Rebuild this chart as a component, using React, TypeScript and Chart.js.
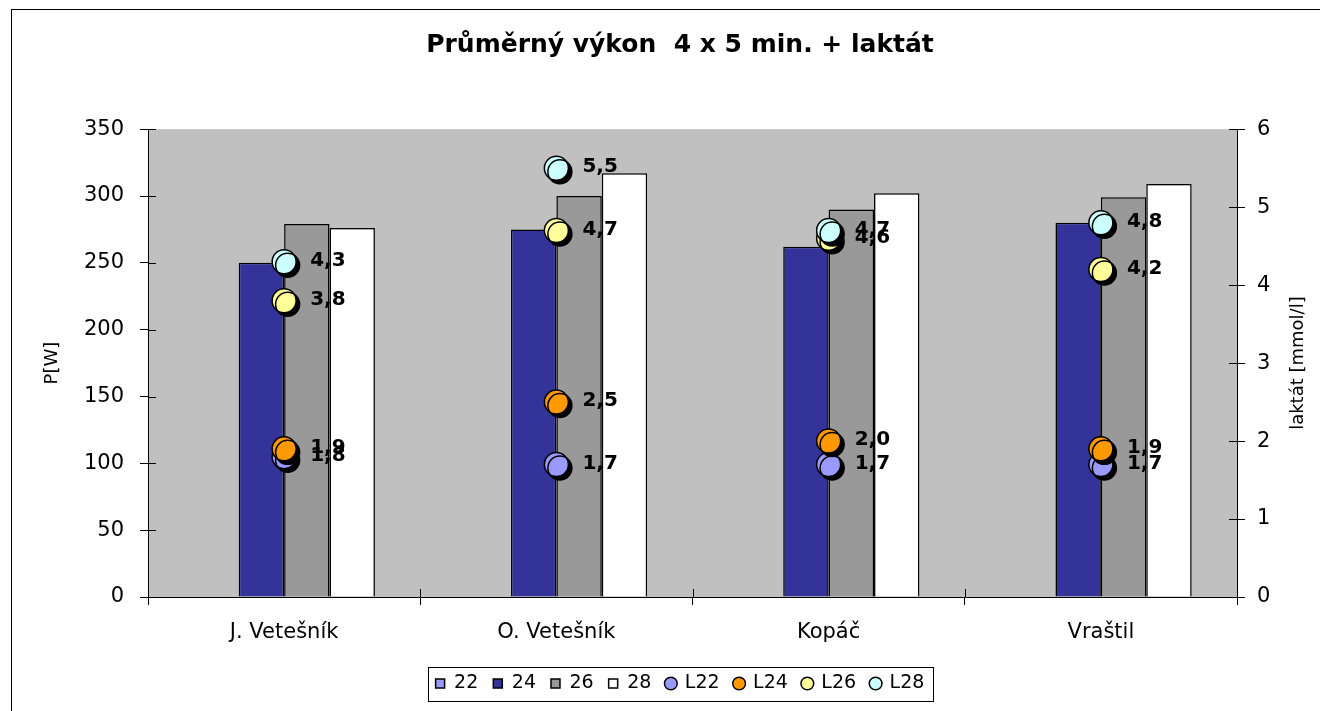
import React, { useEffect, useRef } from 'react';
import { Chart, registerables } from 'chart.js';

Chart.register(...registerables);

const FONT = "'DejaVu Sans', sans-serif";

const titleText = 'Průměrný výkon  4 x 5 min. + laktát';
const categories = ['J. Vetešník', 'O. Vetešník', 'Kopáč', 'Vraštil'];

const power22: (number | null)[] = [null, null, null, null];
const power24 = [250, 275, 262, 280];
const power26 = [279, 300, 290, 299];
const power28 = [276, 317, 302, 309];

const lactate22 = [1.8, 1.7, 1.7, 1.7];
const lactate24 = [1.9, 2.5, 2.0, 1.9];
const lactate26 = [3.8, 4.7, 4.6, 4.2];
const lactate28 = [4.3, 5.5, 4.7, 4.8];

const powerAxis = { min: 0, max: 350, step: 50, title: 'P[W]' };
const lactateAxis = { min: 0, max: 6, step: 1, title: 'laktát [mmol/l]' };

const plotBg = {
  id: 'plotBg',
  beforeDraw(chart: any) {
    const { ctx, chartArea: a } = chart;
    ctx.save();
    ctx.fillStyle = '#C0C0C0';
    ctx.fillRect(a.left, a.top, a.right - a.left, a.bottom - a.top);
    ctx.restore();
  },
};

const crossTicks = {
  id: 'crossTicks',
  beforeDatasetsDraw(chart: any) {
    const { ctx, chartArea: a, scales } = chart;
    ctx.save();
    ctx.strokeStyle = '#000';
    ctx.lineWidth = 1;
    ctx.beginPath();
    const y = scales.y;
    y.ticks.forEach((_t: any, i: number) => {
      const py = Math.round(y.getPixelForTick(i)) + 0.5;
      ctx.moveTo(a.left, py);
      ctx.lineTo(a.left + 8, py);
    });
    const y2 = scales.y2;
    y2.ticks.forEach((_t: any, i: number) => {
      const py = Math.round(y2.getPixelForTick(i)) + 0.5;
      ctx.moveTo(a.right - 8, py);
      ctx.lineTo(a.right, py);
    });
    const x = scales.x;
    for (let i = 0; i <= categories.length; i++) {
      const px = Math.round(x.getPixelForValue(i - 0.5)) + 0.5;
      ctx.moveTo(px, a.bottom);
      ctx.lineTo(px, a.bottom - 8);
    }
    ctx.stroke();
    ctx.restore();
  },
};

const pointShadow = {
  id: 'pointShadow',
  beforeDatasetDraw(chart: any, args: any) {
    if (chart.data.datasets[args.index].type !== 'line') return;
    const ctx = chart.ctx;
    ctx.save();
    ctx.shadowColor = '#000';
    ctx.shadowOffsetX = 3.5;
    ctx.shadowOffsetY = 3.5;
    ctx.shadowBlur = 0;
  },
  afterDatasetDraw(chart: any, args: any) {
    if (chart.data.datasets[args.index].type !== 'line') return;
    chart.ctx.restore();
  },
};

const valueLabels = {
  id: 'valueLabels',
  afterDatasetsDraw(chart: any) {
    const ctx = chart.ctx;
    ctx.save();
    ctx.font = `bold 20px ${FONT}`;
    ctx.fillStyle = '#000';
    ctx.textAlign = 'left';
    ctx.textBaseline = 'middle';
    chart.data.datasets.forEach((ds: any, i: number) => {
      if (ds.type !== 'line') return;
      const meta = chart.getDatasetMeta(i);
      meta.data.forEach((el: any, j: number) => {
        const v = ds.data[j];
        if (v == null) return;
        ctx.fillText(v.toFixed(1).replace('.', ','), el.x + 26, el.y - 1);
      });
    });
    ctx.restore();
  },
};

const axisTitles = {
  id: 'axisTitles',
  afterDraw(chart: any) {
    const { ctx, chartArea: a } = chart;
    const cy = (a.top + a.bottom) / 2;
    ctx.save();
    ctx.font = `18px ${FONT}`;
    ctx.fillStyle = '#000';
    ctx.textAlign = 'center';
    ctx.textBaseline = 'alphabetic';
    ctx.save();
    ctx.translate(45, cy);
    ctx.rotate(-Math.PI / 2);
    ctx.fillText(powerAxis.title, 0, 0);
    ctx.restore();
    ctx.save();
    ctx.translate(1291, cy);
    ctx.rotate(-Math.PI / 2);
    ctx.fillText(lactateAxis.title, 0, 0);
    ctx.restore();
    ctx.restore();
  },
};

const legendBorder = {
  id: 'legendBorder',
  afterDraw(chart: any) {
    const lg = chart.legend;
    if (!lg || !lg.legendHitBoxes || !lg.legendHitBoxes.length) return;
    const hb = lg.legendHitBoxes;
    const first = hb[0];
    const last = hb[hb.length - 1];
    const left = Math.round(first.left - 8);
    const right = Math.round(last.left + last.width + 9);
    const cy = first.top + first.height / 2;
    const top = Math.round(cy - 17);
    const ctx = chart.ctx;
    ctx.save();
    ctx.strokeStyle = '#000';
    ctx.lineWidth = 1;
    ctx.strokeRect(left + 0.5, top + 0.5, right - left, 34);
    ctx.restore();
  },
};

const barStyle = {
  type: 'bar' as const,
  yAxisID: 'y',
  borderColor: '#000',
  borderWidth: 1.5,
  barPercentage: 1.0,
  categoryPercentage: 0.667,
  pointStyle: 'rect',
  order: 10,
};

const pointStyle = (color: string) => ({
  type: 'line' as const,
  yAxisID: 'y2',
  showLine: false,
  pointRadius: 12,
  pointHoverRadius: 12,
  pointBorderWidth: 1.5,
  pointBorderColor: '#000',
  pointBackgroundColor: color,
  backgroundColor: color,
  borderColor: '#000',
  borderWidth: 1.5,
  pointStyle: 'circle',
});

export default function App() {
  const ref = useRef<HTMLCanvasElement | null>(null);

  useEffect(() => {
    if (!ref.current) return;
    Chart.defaults.font.family = FONT;
    const chart = new Chart(ref.current, {
      type: 'bar',
      data: {
        labels: categories,
        datasets: [
          { ...barStyle, label: '22', data: power22, backgroundColor: '#9999FF' },
          { ...barStyle, label: '24', data: power24, backgroundColor: '#333399' },
          { ...barStyle, label: '26', data: power26, backgroundColor: '#999999' },
          { ...barStyle, label: '28', data: power28, backgroundColor: '#FFFFFF' },
          { ...pointStyle('#9999FF'), label: 'L22', data: lactate22, order: 4 },
          { ...pointStyle('#FF9900'), label: 'L24', data: lactate24, order: 3 },
          { ...pointStyle('#FFFF99'), label: 'L26', data: lactate26, order: 2 },
          { ...pointStyle('#CCFFFF'), label: 'L28', data: lactate28, order: 1 },
        ] as any,
      },
      options: {
        animation: false,
        responsive: false,
        maintainAspectRatio: false,
        events: [],
        layout: { padding: { left: 29, right: 0, top: 0, bottom: 8 } },
        plugins: {
          title: {
            display: true,
            text: titleText,
            color: '#000',
            font: { family: FONT, size: 25, weight: 'bold' },
            padding: { top: 20, bottom: 69.2 },
          },
          legend: {
            position: 'bottom',
            labels: {
              usePointStyle: true,
              boxWidth: 9,
              boxHeight: 9,
              padding: 15,
              color: '#000',
              font: { family: FONT, size: 19 },
              sort: (a: any, b: any) => a.datasetIndex - b.datasetIndex,
            },
          },
          tooltip: { enabled: false },
        },
        scales: {
          x: {
            type: 'category',
            offset: true,
            grid: { offset: true, drawOnChartArea: false, drawTicks: true, tickLength: 8, color: '#000' },
            border: { display: true, color: '#000', width: 1 },
            ticks: { color: '#000', padding: 15, font: { family: FONT, size: 21 } },
            afterFit: (s: any) => { s.height = 62; },
          },
          y: {
            position: 'left',
            min: powerAxis.min,
            max: powerAxis.max,
            grid: { drawOnChartArea: false, drawTicks: true, tickLength: 8, color: '#000' },
            border: { display: true, color: '#000', width: 1 },
            ticks: { stepSize: powerAxis.step, color: '#000', padding: 16, font: { family: FONT, size: 21 } },
            afterFit: (s: any) => { s.width = 107; },
          },
          y2: {
            position: 'right',
            min: lactateAxis.min,
            max: lactateAxis.max,
            grid: { drawOnChartArea: false, drawTicks: true, tickLength: 8, color: '#000' },
            border: { display: true, color: '#000', width: 1 },
            ticks: { stepSize: lactateAxis.step, color: '#000', padding: 12, font: { family: FONT, size: 21 } },
            afterFit: (s: any) => { s.width = 82; },
          },
        },
      } as any,
      plugins: [plotBg, crossTicks, pointShadow, valueLabels, axisTitles, legendBorder],
    });
    return () => chart.destroy();
  }, []);

  return (
    <div
      style={{
        position: 'fixed',
        left: 11,
        top: 9,
        width: 1308,
        height: 702,
        borderTop: '1px solid #000',
        borderLeft: '1px solid #000',
        background: '#fff',
      }}
    >
      <canvas ref={ref} width={1307} height={701} style={{ display: 'block' }} />
    </div>
  );
}
